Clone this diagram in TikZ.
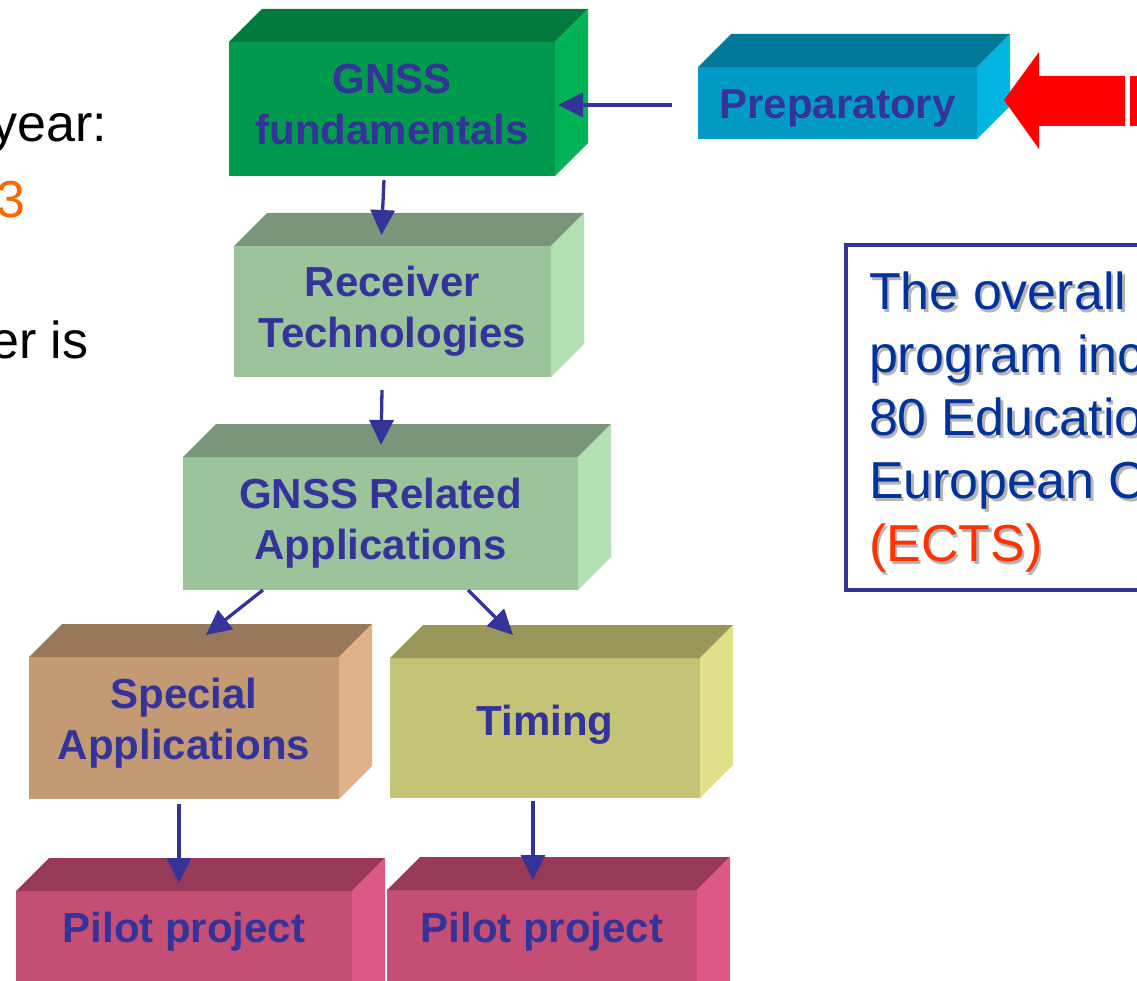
\documentclass[tikz,border=0pt]{standalone}
\usepackage{fontspec}
\setmainfont{Liberation Sans}
\usetikzlibrary{arrows.meta,calc}
\definecolor{txtblue}{HTML}{333399}
\definecolor{ectsblue}{HTML}{003399}
\definecolor{ectsred}{HTML}{FF3300}
\definecolor{numorange}{HTML}{FF6600}
\definecolor{shadowgray}{HTML}{B4B4B4}
\definecolor{gfF}{HTML}{009A4E}\definecolor{gfT}{HTML}{007A3D}\definecolor{gfS}{HTML}{00B256}
\definecolor{cyF}{HTML}{009BC4}\definecolor{cyT}{HTML}{00789A}\definecolor{cyS}{HTML}{00B4E0}
\definecolor{lgF}{HTML}{9BC49B}\definecolor{lgT}{HTML}{7A967A}\definecolor{lgS}{HTML}{B3E0B3}
\definecolor{brF}{HTML}{C49A74}\definecolor{brT}{HTML}{98785A}\definecolor{brS}{HTML}{E0B088}
\definecolor{olF}{HTML}{C4C476}\definecolor{olT}{HTML}{989658}\definecolor{olS}{HTML}{E0E088}
\definecolor{pkF}{HTML}{C44E74}\definecolor{pkT}{HTML}{963A58}\definecolor{pkS}{HTML}{E05888}
\tikzset{
  front/.style={rectangle, inner sep=0pt, outer sep=0pt},
  lbl/.style={inner sep=0pt, outer sep=0pt, text=txtblue, align=center,
    font=\bfseries\fontsize{42}{51}\selectfont},
  arr/.style={draw=txtblue, line width=3.3pt, -{Triangle[length=25pt,width=24pt]}},
  plain/.style={inner sep=0pt, outer sep=0pt, font=\fontsize{52}{63}\selectfont},
}
% name, x1, y1, x2, y2, colour prefix, text, text offset (down)
\newcommand\blockbox[8]{%
  \node[front, fill=#6F, minimum width={#4-#2}, minimum height={#5-#3}] (#1) at ({(#2+#4)/2},{(#3+#5)/2}) {};
  \fill[#6T] (#1.north west) -- ++(33,-33) -- ++({#4-#2},0) -- (#1.north east) -- cycle;
  \fill[#6S] (#1.north east) -- ++(33,-33) -- ++(0,{#5-#3}) -- (#1.south east) -- cycle;
  \node[lbl] (#1-text) at ($(#1.center)+(0,#8)$) {#7};
}
\begin{document}
\begin{tikzpicture}[x=1pt,y=-1pt]
\useasboundingbox (0,0) rectangle (1137,981);
\clip (0,0) rectangle (1137,981);

% left partial text
\node[plain, anchor=base east] (tyear) at (107,142) {year:};
\node[plain, anchor=base east, text=numorange] (tthree) at (25.5,218) {3};
\node[plain, anchor=base east] (teris) at (88.5,358) {er is};

% blocks
\blockbox{gf}{229}{42}{555}{176}{gf}{GNSS\\fundamentals}{-4}
\blockbox{prep}{698}{67}{977}{139}{cy}{Preparatory}{5}
\blockbox{rt}{234}{246}{551}{377}{lg}{Receiver\\Technologies}{0}
\blockbox{ra}{183}{457}{578}{590}{lg}{GNSS Related\\Applications}{0}
\blockbox{sa}{29}{657}{339}{799}{br}{Special\\Applications}{-5}
\blockbox{tm}{390}{658}{700}{798}{ol}{Timing}{-3}

% pilot projects (front face continues below the frame)
\node[front, fill=pkF, minimum width=336, minimum height=80] (p1) at (184,931) {};
\fill[pkF] (p1.south west) rectangle ([yshift=-60pt]p1.south east);
\fill[pkT] (p1.north west) -- ++(33,-33) -- ++(336,0) -- (p1.north east) -- cycle;
\fill[pkS] (p1.north east) -- ++(33,-33) -- ++(0,200) -- ++(-33,33) -- cycle;
\node[lbl] (p1-text) at ($(p1.center)+(0,1)$) {Pilot project};
\node[front, fill=pkF, minimum width=310, minimum height=80] (p2) at (542,930) {};
\fill[pkF] (p2.south west) rectangle ([yshift=-60pt]p2.south east);
\fill[pkT] (p2.north west) -- ++(33,-33) -- ++(310,0) -- (p2.north east) -- cycle;
\fill[pkS] (p2.north east) -- ++(33,-33) -- ++(0,200) -- ++(-33,33) -- cycle;
\node[lbl] (p2-text) at ($(p2.center)+(0,2)$) {Pilot project};

% red block arrow
\fill[red] (1004,100) -- (1039,52) -- (1039,76) -- (1125,76) -- (1125,126) -- (1039,126) -- (1039,149) -- cycle;
\fill[red] (1130,76) rectangle (1145,126);

% connectors
\draw[arr] ($(prep.west)+(-26,2)$) -- ($(prep.west -| gf.east)+(3,2)$);
\draw[arr] ($(gf.south)+(-8,4)$) -- ($(rt.north)+(-11,-11)$);
\draw[arr] ($(rt.south)+(-10.5,13)$) -- ($(ra.north)+(0.5,-12)$);
\draw[arr] ($(ra.south west)+(80,0)$) -- ($(sa.north)+(22,-22)$);
\draw[arr] ($(ra.south east)+(-110,0)$) -- ($(tm.north)+(-32,-23)$);
\draw[arr] ($(sa.south)+(-5,5)$) -- ($(p1.north)+(-5,-8)$);
\draw[arr] ($(tm.south)+(-12,3)$) -- ($(p2.north)+(-9,-10)$);

% ECTS box
\draw[draw=txtblue, line width=4.5pt] (846,245) rectangle (1170,590);
\node[plain, anchor=north west, align=left, text=shadowgray] (ectsshadow) at (871.5,274.5)
  {The overall\\program inc\\80 Educatio\\European C\\(ECTS)};
\node[plain, anchor=north west, align=left, text=ectsblue] (ects) at (869,272)
  {The overall\\program inc\\80 Educatio\\European C\\\textcolor{ectsred}{(ECTS)}};
\end{tikzpicture}
\end{document}
